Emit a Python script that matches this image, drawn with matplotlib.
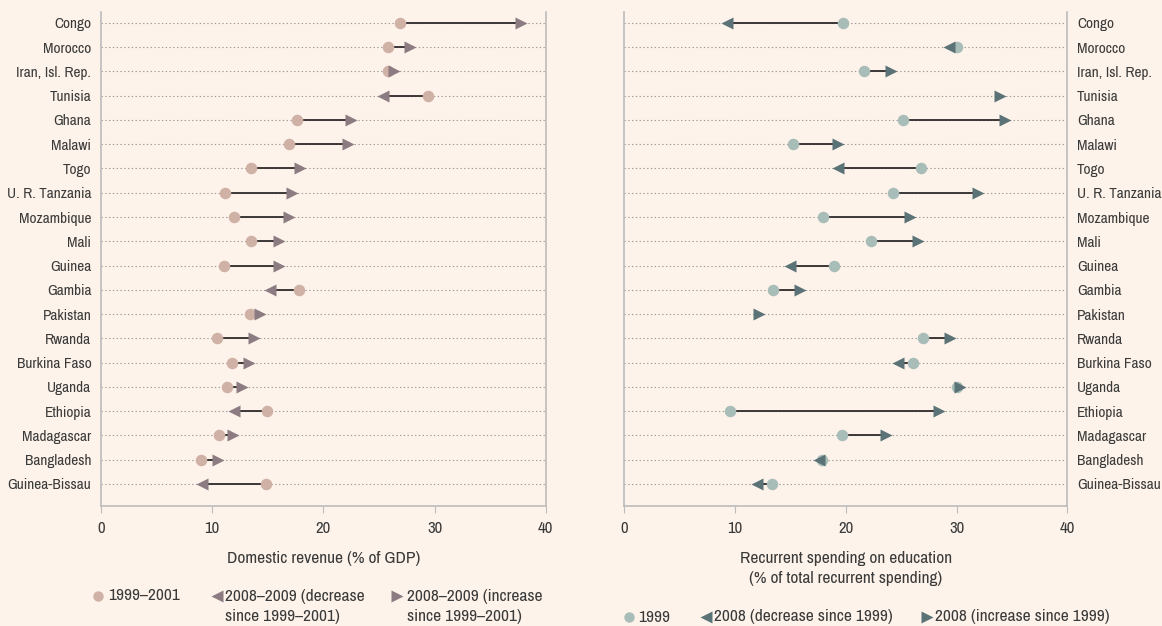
import matplotlib
matplotlib.use("Agg")
import matplotlib.pyplot as plt
from matplotlib.lines import Line2D
import numpy as np

countries = ["Congo", "Morocco", "Iran, Isl. Rep.", "Tunisia", "Ghana", "Malawi", "Togo",
             "U. R. Tanzania", "Mozambique", "Mali", "Guinea", "Gambia", "Pakistan", "Rwanda",
             "Burkina Faso", "Uganda", "Ethiopia", "Madagascar", "Bangladesh", "Guinea-Bissau"]

revenue_1999_2001 = [26.9, 25.8, 25.8, 29.4, 17.6, 16.9, 13.5, 11.2, 12.0, 13.5,
                     11.1, 17.8, 13.4, 10.4, 11.8, 11.3, 14.9, 10.6, 9.0, 14.8]
revenue_2008_2009 = [37.8, 27.8, 26.4, 25.4, 22.5, 22.2, 17.9, 17.2, 16.9, 16.0,
                     16.0, 15.2, 14.3, 13.8, 13.3, 12.7, 12.0, 11.9, 10.5, 9.1]

spending_1999 = [19.8, 30.0, 21.7, None, 25.2, 15.3, 26.8, 24.3, 18.0, 22.3,
                 19.0, 13.5, None, 27.0, 26.1, 30.0, 9.6, 19.7, 17.9, 13.4]
spending_2008 = [9.3, 29.3, 24.1, 33.9, 34.4, 19.3, 19.3, 31.9, 25.8, 26.5,
                 15.0, 15.9, 12.2, 29.4, 24.7, 30.3, 28.4, 23.6, 17.6, 12.0]

xticks = [0, 10, 20, 30, 40]

BG = "#fdf3ea"
TXT = "#3a3a3a"
SPINE = "#bdbcbd"
GRID = "#9a9a9a"
FS = 11
FS_L = 12.5

plt.rcParams['font.family'] = ['Archivo Narrow', 'Barlow Condensed', 'DejaVu Sans']

fig = plt.figure(figsize=(11.62, 6.26), dpi=100, facecolor=BG)
ax1 = fig.add_axes([0.0869, 0.1917, 0.3827, 0.7893])
ax2 = fig.add_axes([0.5368, 0.1917, 0.3818, 0.7893])

def draw(ax, start, end, c_circle, c_tri, label_side):
    n = len(countries)
    y = np.arange(n)
    ax.set_facecolor(BG)
    for i in range(n):
        ax.axhline(i, color=GRID, lw=0.8, ls=(0, (1.2, 2.2)), zorder=1)
    for i in range(n):
        s, e = start[i], end[i]
        if s is not None:
            ax.plot([s, e], [i, i], color="#2e2a2a", lw=1.3, zorder=2, solid_capstyle='butt')
            ax.plot(s, i, 'o', ms=8.3, color=c_circle, mec='none', zorder=3)
        if s is None or e >= s:
            m = '>'
        else:
            m = '<'
        ax.plot(e, i, m, ms=9, color=c_tri, mec='none', zorder=4)
    ax.set_xlim(0, 40)
    ax.set_ylim(n - 1 + 0.907, -0.453)
    ax.set_xticks(xticks)
    ax.set_xticklabels([str(t) for t in xticks], fontsize=FS_L - 0.5, color=TXT)
    ax.set_yticks(y)
    ax.set_yticklabels(countries, fontsize=FS, color=TXT)
    ax.tick_params(axis='y', length=0, pad=7)
    ax.tick_params(axis='x', length=5, color=SPINE, pad=6)
    if label_side == 'right':
        ax.yaxis.tick_right()
        ax.tick_params(axis='y', length=0, pad=7)
    for sp in ['left', 'right', 'bottom']:
        ax.spines[sp].set_color(SPINE)
        ax.spines[sp].set_linewidth(1.2)
    ax.spines['top'].set_visible(False)

draw(ax1, revenue_1999_2001, revenue_2008_2009, "#cfb1a5", "#8c7b81", 'left')
draw(ax2, spending_1999, spending_2008, "#a9bdb8", "#5b7276", 'right')

ax1.set_xlabel("Domestic revenue (% of GDP)", fontsize=FS_L, color=TXT, labelpad=10.5)
ax2.set_xlabel("Recurrent spending on education\n(% of total recurrent spending)",
               fontsize=FS_L, color=TXT, labelpad=10.5, linespacing=1.42)

# legends
def fx(px):
    return px / 1162.0

def fy(py):
    return 1 - py / 626.0

def leg_marker(px, py, m, c):
    fig.add_artist(Line2D([fx(px)], [fy(py)], marker=m, ms=7.5 if m == 'o' else 8.5,
                          color=c, mec='none', transform=fig.transFigure))

def leg_text(px, py, s):
    fig.text(fx(px), fy(py), s, fontsize=FS_L, color=TXT, va='center', ha='left')

leg_marker(98, 596, 'o', "#cfb1a5")
leg_text(108, 596, "1999–2001")
leg_marker(217, 596, '<', "#8c7b81")
leg_text(225, 596, "2008–2009 (decrease")
leg_text(225, 616, "since 1999–2001)")
leg_marker(397, 596, '>', "#8c7b81")
leg_text(407, 596, "2008–2009 (increase")
leg_text(407, 616, "since 1999–2001)")

leg_marker(629, 617, 'o', "#a9bdb8")
leg_text(638, 617, "1999")
leg_marker(706, 617, '<', "#5b7276")
leg_text(714, 617, "2008 (decrease since 1999)")
leg_marker(927, 617, '>', "#5b7276")
leg_text(935, 617, "2008 (increase since 1999)")

fig.savefig("out.png", dpi=100, facecolor=BG)
